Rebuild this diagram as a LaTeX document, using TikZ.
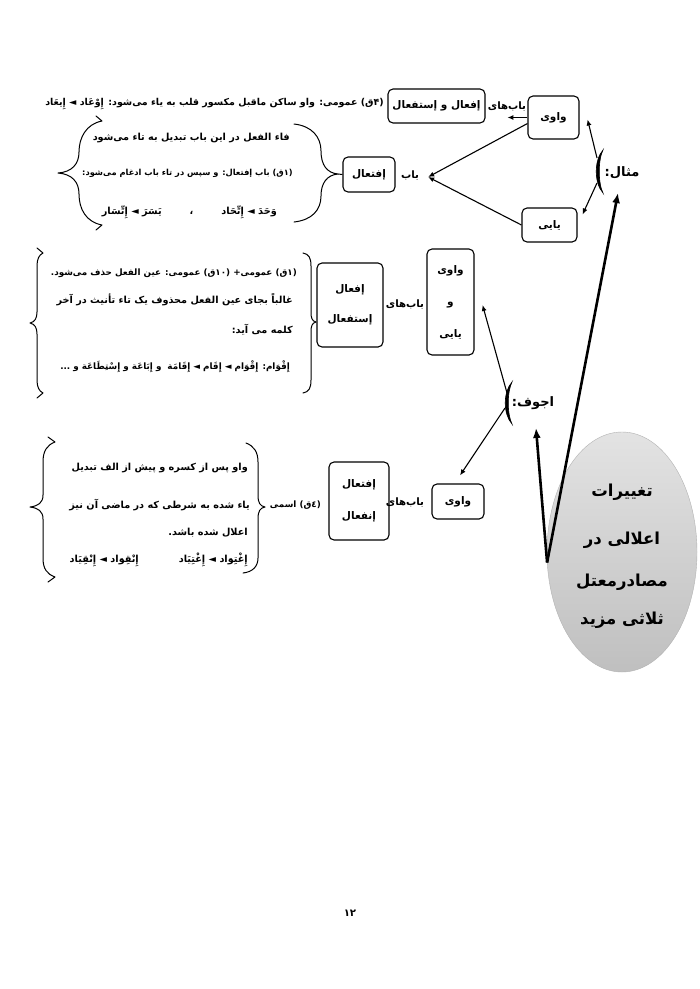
\documentclass[tikz,border=0pt]{standalone}
\usepackage{fontspec}
\usepackage{tikz}
\usetikzlibrary{arrows.meta, positioning, shapes.geometric, calc}
\newfontfamily\arabicfont[Script=Arabic]{DejaVu Sans}
\TeXXeTstate=1
\newcommand{\fatext}[1]{\beginR#1\endR}

\begin{document}
\begin{tikzpicture}[x=1pt, y=-1pt,
		box/.style={draw, line width=1.1pt, rounded corners=5pt, inner sep=0pt, align=center, font=\arabicfont\bfseries\fontsize{10.5}{12}\selectfont},
		txt/.style={inner sep=0pt, anchor=east, font=\arabicfont\bfseries\fontsize{9.7}{11}\selectfont},
		txtsm/.style={txt, font=\arabicfont\bfseries\fontsize{8.8}{11}\selectfont},
		lbl/.style={inner sep=0pt, font=\arabicfont\bfseries\fontsize{10.2}{12}\selectfont},
		head/.style={inner sep=0pt, font=\arabicfont\bfseries\fontsize{13}{15}\selectfont},
		core/.style={ellipse, draw=gray!60, top color=gray!22, bottom color=gray!50, minimum width=150, minimum height=240, inner sep=0pt},
		coretxt/.style={inner sep=0pt, align=center, font=\arabicfont\bfseries\fontsize{16.5}{40}\selectfont},
		arrowthin/.style={-{Latex[length=6pt,width=5pt]}, line width=1.1pt},
		arrowthick/.style={-{Latex[length=10pt,width=8pt]}, line width=2.6pt},
		bracestyle/.style={line width=1pt, line cap=round, line join=round},
		bracket/.style={fill=black, line width=0.6pt}
	]
	\useasboundingbox (0,0) rectangle (700,989);
	\fill[white] (0,0) rectangle (700,989);

	% --- Core ellipse ---
	\node[core] (core) at (622,552) {};
	\node[coretxt] (core_txt) at (622,556) {\fatext{تغییرات}\\[8pt]\fatext{اعلالی در}\\[2pt]\fatext{مصادرمعتل}\\[-2pt]\fatext{ثلاثی مزید}};

	% --- Headings with their brackets ---
	\node[head] (mesal) at (622,173) {\fatext{مثال:}};
	\draw[bracket] (603,150) .. controls (594,160) and (594,183) .. (603,193) .. controls (598,183) and (598,160) .. (603,150) -- cycle;
	\coordinate (mesal_up) at (597,158);
	\coordinate (mesal_dn) at (597,183);

	\node[head] (ajvaf) at (533,403) {\fatext{اجوف:}};
	\draw[bracket] (512,382) .. controls (503,392) and (503,414) .. (512,424) .. controls (507,414) and (507,392) .. (512,382) -- cycle;
	\coordinate (ajvaf_up) at (507,393);
	\coordinate (ajvaf_dn) at (505,408);

	% --- Top row (mesal) ---
	\node[box, minimum width=51, minimum height=43] (vawi1) at (553.5,117.5) {\fatext{واوی}};
	\node[box, minimum width=55, minimum height=34] (yayi1) at (549.5,225) {\fatext{یایی}};
	\node[lbl] (babha1) at (507,107) {\fatext{باب‌های}};
	\node[box, minimum width=97, minimum height=34] (ef_es1) at (436.5,106) {\fatext{إفعال و إستفعال}};
	\node[txt, font=\arabicfont\bfseries\fontsize{9.5}{11}\selectfont] (t_top) at (384,104) {\fatext{(۴ق) عمومی: واو ساکن ماقبل مکسور قلب به یاء می‌شود: إِوْعَاد ◄ إِیعَاد}};

	\node[lbl] (bab1) at (410,176) {\fatext{باب}};
	\node[box, minimum width=52, minimum height=35] (eftial1) at (369,174.5) {\fatext{إفتعال}};
	\node[txt] (t1a) at (290,138) {\fatext{فاء الفعل در این باب تبدیل به تاء می‌شود}};
	\node[txt, font=\arabicfont\bfseries\fontsize{8.3}{11}\selectfont] (t1b) at (293,173) {\fatext{(۱ق) باب إفتعال: و سپس در تاء باب ادغام می‌شود:}};
	\node[txt] (t1c) at (277,212) {\fatext{وَحَدَ ◄ إِتِّحَاد\hspace{28pt}،\hspace{28pt}یَسَرَ ◄ إِتِّسَار}};

	% braces round the top text
	\draw[bracestyle] (96,116) -- (102,121) .. controls (86,124) and (79,138) .. (79,152) .. controls (79,164) and (72,172) .. (58,173) .. controls (72,174) and (79,182) .. (79,194) .. controls (79,209) and (86,222) .. (102,225) -- (96,230);
	\draw[bracestyle] (294,124) .. controls (312,126) and (321,137) .. (321,151) .. controls (321,165) and (327,173) .. (338,174) .. controls (327,175) and (321,183) .. (321,196) .. controls (321,210) and (312,220) .. (294,222);
	\coordinate (br1_tip) at (338,174);

	% --- Middle row (ajvaf, upper) ---
	\node[box, minimum width=47, minimum height=106] (vy2) at (450.5,302) {\fatext{واوی}\\[20pt]\fatext{و}\\[20pt]\fatext{یایی}};
	\node[lbl] (babha2) at (405,305) {\fatext{باب‌های}};
	\node[box, minimum width=66, minimum height=84] (ef_es2) at (350,305) {\fatext{إفعال}\\[18pt]\fatext{إستفعال}};
	\node[txtsm] (t2a) at (297,273) {\fatext{(۱ق) عمومی+ (۱۰ق) عمومی: عین الفعل حذف می‌شود.}};
	\node[txt] (t2b) at (293,300) {\fatext{غالباً بجای عین الفعل محذوف یک تاء تأنیث در آخر}};
	\node[txt] (t2c) at (293,330) {\fatext{کلمه می آید:}};
	\node[txtsm] (t2d) at (290,367) {\fatext{إِقْوَام: إِقْوَام ◄ إِقَام ◄ إِقَامَة\hspace{6pt}و إِبَاعَة و إِسْتِطَاعَة و ...}};

	\draw[bracestyle] (303,253) .. controls (309,254) and (311,258) .. (311,266) -- (311,312) .. controls (311,318) and (312,321) .. (316,322) .. controls (312,323) and (311,326) .. (311,332) -- (311,380) .. controls (311,388) and (309,392) .. (303,393);
	\draw[bracestyle] (37,248) -- (43,253) .. controls (39,255) and (37,259) .. (37,266) -- (37,312) .. controls (37,318) and (35,322) .. (30,323) .. controls (35,324) and (37,328) .. (37,334) -- (37,380) .. controls (37,387) and (39,391) .. (43,393) -- (37,398);

	% --- Lower row (ajvaf, lower) ---
	\node[box, minimum width=52, minimum height=35] (vawi3) at (458,501.5) {\fatext{واوی}};
	\node[lbl] (babha3) at (405,502) {\fatext{باب‌های}};
	\node[box, minimum width=60, minimum height=78] (ef_in3) at (359,501) {\fatext{إفتعال}\\[20pt]\fatext{إنفعال}};
	\node[txtsm] (ism) at (321,505) {\fatext{(٤ق) اسمی}};
	\node[txt] (t3a) at (248,468) {\fatext{واو پس از کسره و پیش از الف تبدیل}};
	\node[txt] (t3b) at (250,505) {\fatext{یاء شده به شرطی که در ماضی آن نیز}};
	\node[txt] (t3c) at (248,533) {\fatext{اعلال شده باشد.}};
	\node[txt] (t3d) at (248,560) {\fatext{إِغْتِوَاد ◄ إِغْتِیَاد\hspace{40pt}إِنْقِوَاد ◄ إِنْقِیَاد}};

	\draw[bracestyle] (246,443) .. controls (254,446) and (258,452) .. (258,462) -- (258,495) .. controls (258,503) and (260,506) .. (265,507) .. controls (260,508) and (258,511) .. (258,519) -- (258,558) .. controls (258,567) and (252,572) .. (243,573);
	\draw[bracestyle] (48,437) -- (55,442) .. controls (47,445) and (43,451) .. (43,462) -- (43,495) .. controls (43,503) and (38,506) .. (30,507) .. controls (38,508) and (43,511) .. (43,519) -- (43,558) .. controls (43,569) and (47,574) .. (55,577) -- (48,582);

	% --- Page number ---
	\node[lbl] (pagenum) at (350,913) {\fatext{۱۲}};

	% --- Connections ---
	\draw[arrowthick] (core.188) -- ($(mesal)+(-4,20)$);
	\draw[arrowthick] (core.188) -- ($(ajvaf)+(3,25)$);

	\draw[arrowthin] (mesal_up) -- ($(vawi1.east)+(8,2)$);
	\draw[arrowthin] (mesal_dn) -- ($(yayi1.north east)+(5,7)$);
	\draw[arrowthin] ($(vawi1.west)+(0,6)$) -- ($(bab1.east)+(9,1)$);
	\draw[arrowthin] (yayi1.west) -- ($(bab1.east)+(9,1)$);
	\draw[arrowthin] (vawi1.west) -- ($(vawi1.west)+(-20,0)$);
	\draw[line width=1pt] (br1_tip) -- (eftial1.west);

	\draw[arrowthin] (ajvaf_up) -- ($(vy2.east)+(8,3)$);
	\draw[arrowthin] (ajvaf_dn) -- ($(vawi3.north)+(2,-8)$);

\end{tikzpicture}
\end{document}
